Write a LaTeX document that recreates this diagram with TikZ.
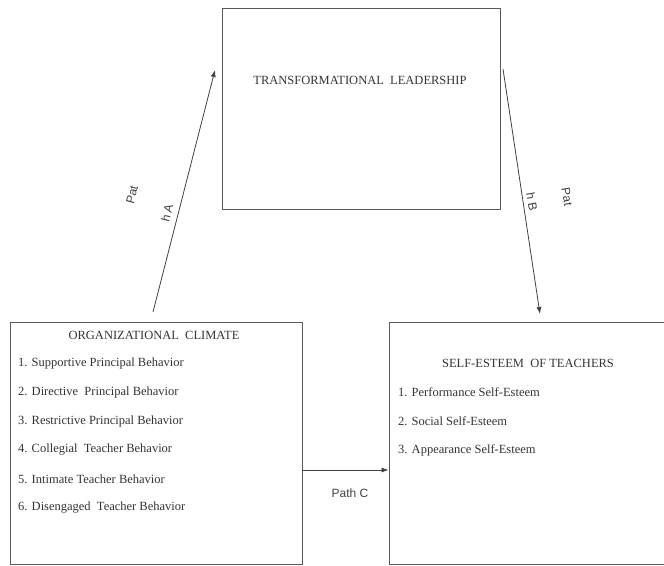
\documentclass[tikz,border=0pt]{standalone}
\usepackage{fontspec}
\setmainfont{Liberation Serif}
\setsansfont{Liberation Sans}
\usetikzlibrary{calc,positioning,arrows.meta}

\tikzset{
  framebox/.style={draw=black!65, line width=0.9pt, inner sep=0pt},
  boxtitle/.style={font=\fontsize{12.5}{14}\selectfont, text=black!80},
  boxitem/.style={font=\fontsize{12.5}{14}\selectfont, text=black!80, anchor=west, inner sep=0pt},
  pathline/.style={draw=black!75, line width=0.8pt, -{Latex[length=7pt,width=5pt]}},
  pathlabel/.style={font=\sffamily\fontsize{12}{13}\selectfont, text=black!75, inner sep=1pt}
}

\begin{document}
\begin{tikzpicture}[x=1pt,y=-1pt]
  \useasboundingbox (0,0) rectangle (664,565);
  % the three boxes
  \node[framebox, minimum width=278pt, minimum height=201pt] (lead) at (361,108.5) {};
  \node[framebox, minimum width=292pt, minimum height=242pt] (clim) at (156,443) {};
  \node[framebox, minimum width=275pt, minimum height=242pt] (self) at (526.5,443) {};

  \node[boxtitle] (leadtitle) at (360,80) {TRANSFORMATIONAL\ \ LEADERSHIP};
  \node[boxtitle] (climtitle) at (154,335) {ORGANIZATIONAL\ \ CLIMATE};
  \node[boxtitle] (selftitle) at (528,363) {SELF-ESTEEM\ \ OF TEACHERS};

  \node[boxitem] (c1) at (18,363) {1. Supportive Principal Behavior};
  \node[boxitem] (c2) at (18,392) {2. Directive\ \ Principal Behavior};
  \node[boxitem] (c3) at (18,421) {3. Restrictive Principal Behavior};
  \node[boxitem] (c4) at (18,450) {4. Collegial\ \ Teacher Behavior};
  \node[boxitem] (c5) at (18,479) {5. Intimate Teacher Behavior};
  \node[boxitem] (c6) at (18,508) {6. Disengaged\ \ Teacher Behavior};

  \node[boxitem] (s1) at (398,392) {1. Performance Self-Esteem};
  \node[boxitem] (s2) at (398,421) {2. Social Self-Esteem};
  \node[boxitem] (s3) at (398,450) {3. Appearance Self-Esteem};

  % paths
  \coordinate (a0) at (153,312);
  \coordinate (a1) at (215,70);
  \coordinate (b0) at (503,69);
  \coordinate (b1) at (540,314);
  \coordinate (cy) at (0,470);
  \draw[pathline] (a0) -- (a1);
  \draw[pathline] (b0) -- (b1);
  \draw[pathline] (clim.east |- cy) -- (self.west |- cy);

  \node[pathlabel, rotate=76] (pa1) at (132,195) {Pat};
  \node[pathlabel, rotate=76] (pa2) at (167,213) {h A};
  \node[pathlabel, rotate=-80] (pb1) at (567,197) {Pat};
  \node[pathlabel, rotate=-80] (pb2) at (532,202) {h B};
  \node[pathlabel] (pc) at (350,493) {Path C};
\end{tikzpicture}
\end{document}
